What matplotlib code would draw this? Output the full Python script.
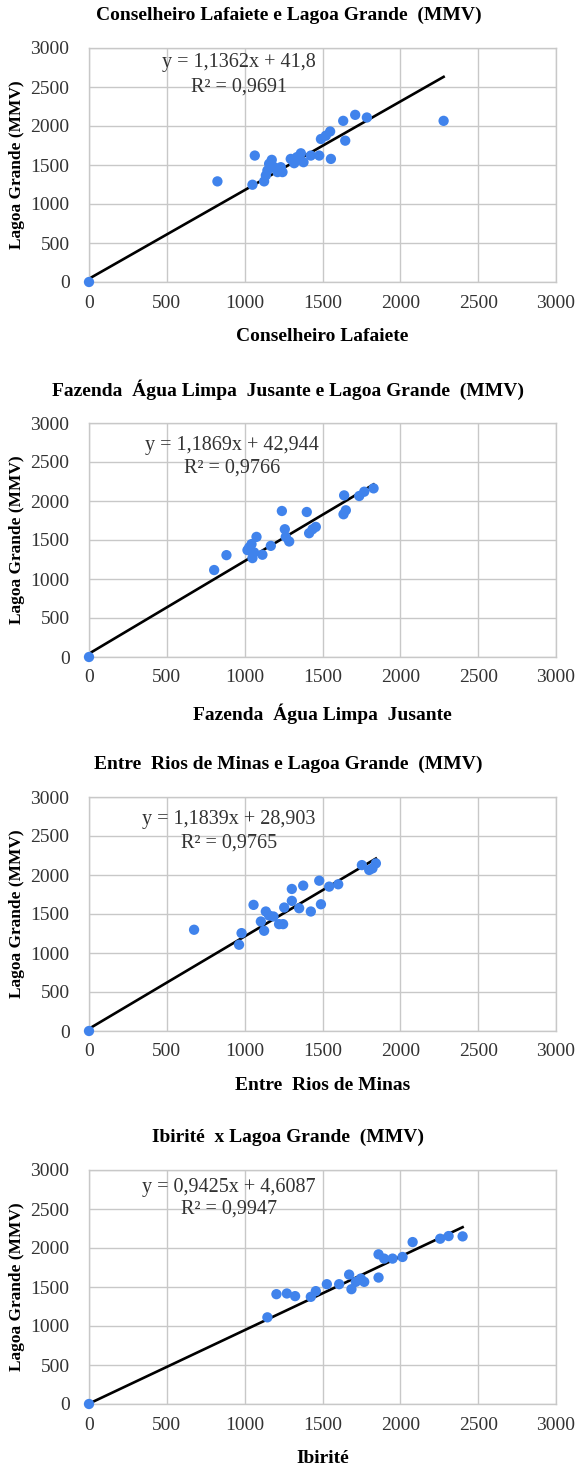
import numpy as np
import matplotlib
matplotlib.use("Agg")
import matplotlib.pyplot as plt

# Lagoa Grande (MMV) regressions against four neighbour stations
titles = ["Conselheiro Lafaiete e Lagoa Grande  (MMV)",
          "Fazenda  Água Limpa  Jusante e Lagoa Grande  (MMV)",
          "Entre  Rios de Minas e Lagoa Grande  (MMV)",
          "Ibirité  x Lagoa Grande  (MMV)"]
xlabels = ["Conselheiro Lafaiete", "Fazenda  Água Limpa  Jusante",
           "Entre  Rios de Minas", "Ibirité"]
ylabel = "Lagoa Grande (MMV)"

slopes = [1.1362, 1.1869, 1.1839, 0.9425]
intercepts = [41.8, 42.944, 28.903, 4.6087]
eq_text = ["y = 1,1362x + 41,8\nR² = 0,9691",
           "y = 1,1869x + 42,944\nR² = 0,9766",
           "y = 1,1839x + 28,903\nR² = 0,9765",
           "y = 0,9425x + 4,6087\nR² = 0,9947"]

x_laf = [0, 825, 1050, 1065, 1125, 1136, 1146, 1157, 1174, 1189, 1211, 1232, 1243,
         1296, 1318, 1335, 1361, 1378, 1425, 1479, 1490, 1521, 1549, 1554, 1633,
         1646, 1710, 1785, 2278]
y_laf = [0, 1290, 1247, 1621, 1290, 1366, 1430, 1515, 1566, 1472, 1409, 1472, 1409,
         1578, 1523, 1600, 1650, 1536, 1621, 1621, 1833, 1875, 1930, 1578, 2066,
         1812, 2143, 2109, 2066]

x_faz = [0, 804, 883, 1018, 1029, 1044, 1050, 1061, 1076, 1114, 1168, 1239, 1258,
         1264, 1286, 1399, 1414, 1436, 1457, 1635, 1639, 1650, 1736, 1768, 1828]
y_faz = [0, 1115, 1306, 1370, 1404, 1447, 1268, 1340, 1540, 1311, 1425, 1872, 1638,
         1540, 1481, 1859, 1587, 1638, 1668, 1830, 2072, 1881, 2064, 2119, 2162]

x_ent = [0, 675, 964, 980, 1057, 1125, 1104, 1136, 1157, 1185, 1221, 1247, 1254,
         1303, 1303, 1350, 1376, 1425, 1479, 1490, 1543, 1601, 1753, 1800, 1821, 1843]
y_ent = [0, 1298, 1106, 1255, 1617, 1285, 1404, 1532, 1481, 1468, 1370, 1370, 1583,
         1821, 1668, 1574, 1864, 1532, 1927, 1625, 1851, 1881, 2127, 2064, 2085, 2149]

x_ibi = [0, 1146, 1204, 1271, 1324, 1425, 1457, 1528, 1607, 1671, 1686, 1714, 1746,
         1768, 1860, 1860, 1896, 1950, 2014, 2079, 2256, 2310, 2400]
y_ibi = [0, 1111, 1408, 1417, 1383, 1374, 1447, 1536, 1536, 1659, 1472, 1566, 1608,
         1566, 1621, 1919, 1864, 1864, 1885, 2076, 2119, 2153, 2149]

xs = [x_laf, x_faz, x_ent, x_ibi]
ys = [y_laf, y_faz, y_ent, y_ibi]
eq_pos = [(964, 2808, 2500), (918, 2706, 2426), (900, 2706, 2413), (900, 2770, 2502)]

plt.rcParams['font.family'] = ['Liberation Serif', 'DejaVu Serif']

fig = plt.figure(figsize=(5.77, 14.65), dpi=100)
W, H = 577.0, 1465.0
bottoms_px = [282, 657, 1031, 1404]
left_px, right_px, h_px = 89, 556, 234

for i in range(4):
    b = bottoms_px[i]
    ax = fig.add_axes([left_px / W, (H - b) / H, (right_px - left_px) / W, h_px / H])
    ax.set_xlim(0, 3000)
    ax.set_ylim(0, 3000)
    ax.set_xticks(np.arange(0, 3001, 500))
    ax.set_yticks(np.arange(0, 3001, 500))
    ax.grid(True, color='#c8c8c8', lw=1.0)
    ax.set_axisbelow(True)
    for s in ax.spines.values():
        s.set_color('#c8c8c8')
        s.set_linewidth(1.0)
    ax.tick_params(length=0, labelsize=14, colors='#333333')
    ax.tick_params(axis='y', pad=14)
    ax.tick_params(axis='x', pad=9)

    x = np.array(xs[i], dtype=float)
    y = np.array(ys[i], dtype=float)
    xl = np.array([x.min(), x.max()])
    ax.plot(xl, slopes[i] * xl + intercepts[i], color='black', lw=1.9, zorder=2)
    ax.scatter(x, y, s=55, color='#4083ec', edgecolors='none', zorder=3, clip_on=False)

    ex, ey1, ey2 = eq_pos[i]
    l1, l2 = eq_text[i].split("\n")
    ax.text(ex, ey1, l1, ha='center', va='center', fontsize=14.5, color='#333333', zorder=4)
    ax.text(ex, ey2, l2, ha='center', va='center', fontsize=14.5, color='#333333', zorder=4)

    ax.set_xlabel(xlabels[i], fontsize=14, fontweight='bold', labelpad=12)
    ax.set_ylabel(ylabel, fontsize=12.5, fontweight='bold')
    ax.yaxis.set_label_coords(-0.136, 0.5)

    top = b - h_px
    fig.text(0.5, (H - (top - 33)) / H, titles[i], ha='center', va='center',
             fontsize=14, fontweight='bold')

fig.savefig("out.png", dpi=100)
